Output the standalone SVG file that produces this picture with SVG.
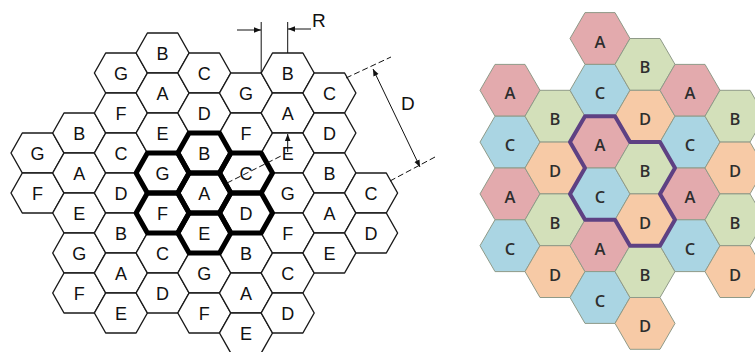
<svg xmlns="http://www.w3.org/2000/svg" xmlns:xlink="http://www.w3.org/1999/xlink" width="755" height="352" viewBox="0 0 755 352">
<style>
.hl{fill:#fff;stroke:#1a1a1a;stroke-width:1.4;stroke-linejoin:round}
.hk{fill:none;stroke:#000;stroke-width:5;stroke-linejoin:round}
.tl{font-family:"Liberation Sans",Arial,sans-serif;font-size:18px;fill:#111;text-anchor:middle}
.hr{stroke:#8f9a88;stroke-width:1}
.a{fill:#e3aaad}.b{fill:#d3e0ba}.c{fill:#aad5e3}.d{fill:#f7caa6}
.tr{font-family:"Open Sans","Noto Sans",sans-serif;font-size:16.5px;font-weight:600;fill:#2e2e2e;text-anchor:middle}
.dim{stroke:#111;stroke-width:1;fill:none}
.dash{stroke:#111;stroke-width:1;fill:none;stroke-dasharray:6 3}
.lbl{font-family:"Liberation Sans",Arial,sans-serif;font-size:19px;fill:#111}
</style>
<defs>
<polygon id="hl" points="-26.5,0 -15.2,-20 15.2,-20 26.5,0 15.2,20 -15.2,20"/>
<polygon id="hr" points="-30,0 -15,-25.9 15,-25.9 30,0 15,25.9 -15,25.9"/>
<marker id="ar" viewBox="0 0 10 10" refX="10" refY="5" markerWidth="7" markerHeight="7" orient="auto-start-reverse" markerUnits="userSpaceOnUse"><path d="M0,1 L10,5 L0,9 Z" fill="#111"/></marker>
</defs>
<g id="left-grid">
<g id="L0-G" transform="translate(37.5,153)"><use href="#hl" class="hl"/><text class="tl" y="7">G</text></g>
<g id="L0-F" transform="translate(37.5,193)"><use href="#hl" class="hl"/><text class="tl" y="7">F</text></g>
<g id="L1-B" transform="translate(79.2,133)"><use href="#hl" class="hl"/><text class="tl" y="7">B</text></g>
<g id="L1-A" transform="translate(79.2,173)"><use href="#hl" class="hl"/><text class="tl" y="7">A</text></g>
<g id="L1-E" transform="translate(79.2,213)"><use href="#hl" class="hl"/><text class="tl" y="7">E</text></g>
<g id="L1-G" transform="translate(79.2,253)"><use href="#hl" class="hl"/><text class="tl" y="7">G</text></g>
<g id="L1-F" transform="translate(79.2,293)"><use href="#hl" class="hl"/><text class="tl" y="7">F</text></g>
<g id="L2-G" transform="translate(120.9,73)"><use href="#hl" class="hl"/><text class="tl" y="7">G</text></g>
<g id="L2-F" transform="translate(120.9,113)"><use href="#hl" class="hl"/><text class="tl" y="7">F</text></g>
<g id="L2-C" transform="translate(120.9,153)"><use href="#hl" class="hl"/><text class="tl" y="7">C</text></g>
<g id="L2-D" transform="translate(120.9,193)"><use href="#hl" class="hl"/><text class="tl" y="7">D</text></g>
<g id="L2-B" transform="translate(120.9,233)"><use href="#hl" class="hl"/><text class="tl" y="7">B</text></g>
<g id="L2-A" transform="translate(120.9,273)"><use href="#hl" class="hl"/><text class="tl" y="7">A</text></g>
<g id="L2-E" transform="translate(120.9,313)"><use href="#hl" class="hl"/><text class="tl" y="7">E</text></g>
<g id="L3-B" transform="translate(162.6,53)"><use href="#hl" class="hl"/><text class="tl" y="7">B</text></g>
<g id="L3-A" transform="translate(162.6,93)"><use href="#hl" class="hl"/><text class="tl" y="7">A</text></g>
<g id="L3-E" transform="translate(162.6,133)"><use href="#hl" class="hl"/><text class="tl" y="7">E</text></g>
<g id="L3-G" transform="translate(162.6,173)"><use href="#hl" class="hl"/><text class="tl" y="7">G</text></g>
<g id="L3-F" transform="translate(162.6,213)"><use href="#hl" class="hl"/><text class="tl" y="7">F</text></g>
<g id="L3-C" transform="translate(162.6,253)"><use href="#hl" class="hl"/><text class="tl" y="7">C</text></g>
<g id="L3-D" transform="translate(162.6,293)"><use href="#hl" class="hl"/><text class="tl" y="7">D</text></g>
<g id="L4-C" transform="translate(204.3,73)"><use href="#hl" class="hl"/><text class="tl" y="7">C</text></g>
<g id="L4-D" transform="translate(204.3,113)"><use href="#hl" class="hl"/><text class="tl" y="7">D</text></g>
<g id="L4-B" transform="translate(204.3,153)"><use href="#hl" class="hl"/><text class="tl" y="7">B</text></g>
<g id="L4-A" transform="translate(204.3,193)"><use href="#hl" class="hl"/><text class="tl" y="7">A</text></g>
<g id="L4-E" transform="translate(204.3,233)"><use href="#hl" class="hl"/><text class="tl" y="7">E</text></g>
<g id="L4-G" transform="translate(204.3,273)"><use href="#hl" class="hl"/><text class="tl" y="7">G</text></g>
<g id="L4-F" transform="translate(204.3,313)"><use href="#hl" class="hl"/><text class="tl" y="7">F</text></g>
<g id="L5-G" transform="translate(246,93)"><use href="#hl" class="hl"/><text class="tl" y="7">G</text></g>
<g id="L5-F" transform="translate(246,133)"><use href="#hl" class="hl"/><text class="tl" y="7">F</text></g>
<g id="L5-C" transform="translate(246,173)"><use href="#hl" class="hl"/><text class="tl" y="7">C</text></g>
<g id="L5-D" transform="translate(246,213)"><use href="#hl" class="hl"/><text class="tl" y="7">D</text></g>
<g id="L5-B" transform="translate(246,253)"><use href="#hl" class="hl"/><text class="tl" y="7">B</text></g>
<g id="L5-A" transform="translate(246,293)"><use href="#hl" class="hl"/><text class="tl" y="7">A</text></g>
<g id="L5-E" transform="translate(246,333)"><use href="#hl" class="hl"/><text class="tl" y="7">E</text></g>
<g id="L6-B" transform="translate(287.7,73)"><use href="#hl" class="hl"/><text class="tl" y="7">B</text></g>
<g id="L6-A" transform="translate(287.7,113)"><use href="#hl" class="hl"/><text class="tl" y="7">A</text></g>
<g id="L6-E" transform="translate(287.7,153)"><use href="#hl" class="hl"/><text class="tl" y="7">E</text></g>
<g id="L6-G" transform="translate(287.7,193)"><use href="#hl" class="hl"/><text class="tl" y="7">G</text></g>
<g id="L6-F" transform="translate(287.7,233)"><use href="#hl" class="hl"/><text class="tl" y="7">F</text></g>
<g id="L6-C" transform="translate(287.7,273)"><use href="#hl" class="hl"/><text class="tl" y="7">C</text></g>
<g id="L6-D" transform="translate(287.7,313)"><use href="#hl" class="hl"/><text class="tl" y="7">D</text></g>
<g id="L7-C" transform="translate(329.4,93)"><use href="#hl" class="hl"/><text class="tl" y="7">C</text></g>
<g id="L7-D" transform="translate(329.4,133)"><use href="#hl" class="hl"/><text class="tl" y="7">D</text></g>
<g id="L7-B" transform="translate(329.4,173)"><use href="#hl" class="hl"/><text class="tl" y="7">B</text></g>
<g id="L7-A" transform="translate(329.4,213)"><use href="#hl" class="hl"/><text class="tl" y="7">A</text></g>
<g id="L7-E" transform="translate(329.4,253)"><use href="#hl" class="hl"/><text class="tl" y="7">E</text></g>
<g id="L8-C" transform="translate(371.1,193)"><use href="#hl" class="hl"/><text class="tl" y="7">C</text></g>
<g id="L8-D" transform="translate(371.1,233)"><use href="#hl" class="hl"/><text class="tl" y="7">D</text></g>
</g>
<g id="left-cluster-outline">
<use href="#hl" class="hk" x="204.3" y="153"/>
<use href="#hl" class="hk" x="204.3" y="193"/>
<use href="#hl" class="hk" x="204.3" y="233"/>
<use href="#hl" class="hk" x="162.6" y="173"/>
<use href="#hl" class="hk" x="162.6" y="213"/>
<use href="#hl" class="hk" x="246" y="173"/>
<use href="#hl" class="hk" x="246" y="213"/>
</g>
<g id="annotations">
<line class="dim" x1="261.2" y1="22" x2="261.2" y2="73"/>
<line class="dim" x1="287.7" y1="22" x2="287.7" y2="53"/>
<line class="dim" x1="237" y1="30" x2="261" y2="30" marker-end="url(#ar)"/>
<line class="dim" x1="311" y1="29" x2="288" y2="29" marker-end="url(#ar)"/>
<text class="lbl" x="312" y="27">R</text>
<line class="dash" x1="346" y1="78" x2="391" y2="57"/>
<line class="dash" x1="390" y1="181" x2="435" y2="157"/>
<line class="dim" x1="373" y1="69" x2="420" y2="167" marker-start="url(#ar)" marker-end="url(#ar)"/>
<text class="lbl" x="401" y="110">D</text>
<line class="dash" x1="227" y1="183" x2="283" y2="155"/>
<line class="dim" x1="287.7" y1="152" x2="287.7" y2="134" marker-end="url(#ar)"/>
</g>
<g id="right-grid">
<g id="R0-A1" transform="translate(510,90.3)"><use href="#hr" class="hr a"/><text class="tr" y="9">A</text></g>
<g id="R0-C1" transform="translate(510,142.1)"><use href="#hr" class="hr c"/><text class="tr" y="9">C</text></g>
<g id="R0-A2" transform="translate(510,193.9)"><use href="#hr" class="hr a"/><text class="tr" y="9">A</text></g>
<g id="R0-C2" transform="translate(510,245.7)"><use href="#hr" class="hr c"/><text class="tr" y="9">C</text></g>
<g id="R1-B1" transform="translate(555,116.2)"><use href="#hr" class="hr b"/><text class="tr" y="9">B</text></g>
<g id="R1-D1" transform="translate(555,168)"><use href="#hr" class="hr d"/><text class="tr" y="9">D</text></g>
<g id="R1-B2" transform="translate(555,219.8)"><use href="#hr" class="hr b"/><text class="tr" y="9">B</text></g>
<g id="R1-D2" transform="translate(555,271.6)"><use href="#hr" class="hr d"/><text class="tr" y="9">D</text></g>
<g id="R2-A1" transform="translate(600,38.5)"><use href="#hr" class="hr a"/><text class="tr" y="9">A</text></g>
<g id="R2-C1" transform="translate(600,90.3)"><use href="#hr" class="hr c"/><text class="tr" y="9">C</text></g>
<g id="R2-A2" transform="translate(600,142.1)"><use href="#hr" class="hr a"/><text class="tr" y="9">A</text></g>
<g id="R2-C2" transform="translate(600,193.9)"><use href="#hr" class="hr c"/><text class="tr" y="9">C</text></g>
<g id="R2-A3" transform="translate(600,245.7)"><use href="#hr" class="hr a"/><text class="tr" y="9">A</text></g>
<g id="R2-C3" transform="translate(600,297.5)"><use href="#hr" class="hr c"/><text class="tr" y="9">C</text></g>
<g id="R3-B1" transform="translate(645,64.4)"><use href="#hr" class="hr b"/><text class="tr" y="9">B</text></g>
<g id="R3-D1" transform="translate(645,116.2)"><use href="#hr" class="hr d"/><text class="tr" y="9">D</text></g>
<g id="R3-B2" transform="translate(645,168)"><use href="#hr" class="hr b"/><text class="tr" y="9">B</text></g>
<g id="R3-D2" transform="translate(645,219.8)"><use href="#hr" class="hr d"/><text class="tr" y="9">D</text></g>
<g id="R3-B3" transform="translate(645,271.6)"><use href="#hr" class="hr b"/><text class="tr" y="9">B</text></g>
<g id="R3-D3" transform="translate(645,323.4)"><use href="#hr" class="hr d"/><text class="tr" y="9">D</text></g>
<g id="R4-A1" transform="translate(690,90.3)"><use href="#hr" class="hr a"/><text class="tr" y="9">A</text></g>
<g id="R4-C1" transform="translate(690,142.1)"><use href="#hr" class="hr c"/><text class="tr" y="9">C</text></g>
<g id="R4-A2" transform="translate(690,193.9)"><use href="#hr" class="hr a"/><text class="tr" y="9">A</text></g>
<g id="R4-C2" transform="translate(690,245.7)"><use href="#hr" class="hr c"/><text class="tr" y="9">C</text></g>
<g id="R5-B1" transform="translate(735,116.2)"><use href="#hr" class="hr b"/><text class="tr" y="9">B</text></g>
<g id="R5-D1" transform="translate(735,168)"><use href="#hr" class="hr d"/><text class="tr" y="9">D</text></g>
<g id="R5-B2" transform="translate(735,219.8)"><use href="#hr" class="hr b"/><text class="tr" y="9">B</text></g>
<g id="R5-D2" transform="translate(735,271.6)"><use href="#hr" class="hr d"/><text class="tr" y="9">D</text></g>
</g>
<g id="right-cluster-outline">
<path d="M585,116.2 L615,116.2 L630,142.1 L660,142.1 L675,168 L660,193.9 L675,219.8 L660,245.7 L630,245.7 L615,219.8 L585,219.8 L570,193.9 L585,168 L570,142.1 Z" fill="none" stroke="#5e4183" stroke-width="4" stroke-linejoin="round"/>
</g>
</svg>
